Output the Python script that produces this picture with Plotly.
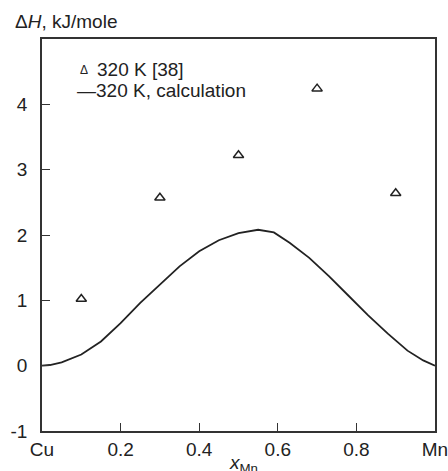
import plotly.graph_objects as go

# Experimental data, 320 K [38]
exp_x = [0.1, 0.3, 0.5, 0.7, 0.9]
exp_dh = [1.02, 2.57, 3.22, 4.24, 2.64]

# Calculated curve, 320 K
calc_x = [0, 0.02, 0.05, 0.1, 0.15, 0.2, 0.25, 0.3, 0.35, 0.4, 0.45, 0.5, 0.55,
          0.59, 0.63, 0.68, 0.73, 0.78, 0.83, 0.88, 0.93, 0.97, 1.0]
calc_dh = [0, 0.01, 0.05, 0.17, 0.37, 0.65, 0.96, 1.24, 1.52, 1.75, 1.92, 2.03, 2.08,
           2.04, 1.88, 1.65, 1.37, 1.07, 0.77, 0.49, 0.23, 0.08, 0.0]

x_tickvals = [0, 0.2, 0.4, 0.6, 0.8, 1.0]
x_ticktext = ["Cu", "0.2", "0.4", "0.6", "0.8", "Mn"]
y_tickvals = [-1, 0, 1, 2, 3, 4]
y_ticktext = ["-1", "0", "1", "2", "3", "4"]

legend_labels = ["320 K [38]", "320 K, calculation"]

FONT = "Arial, Liberation Sans, sans-serif"
INK = "#222222"
FS = 19

fig = go.Figure()
fig.add_trace(go.Scatter(
    x=exp_x, y=exp_dh, mode="markers", name=legend_labels[0],
    marker=dict(symbol="triangle-up-open", size=9, color=INK, line=dict(width=1.5, color=INK)),
))
fig.add_trace(go.Scatter(
    x=calc_x, y=calc_dh, mode="lines", name=legend_labels[1],
    line=dict(color=INK, width=1.8),
))

fig.update_layout(
    width=448, height=471,
    margin=dict(l=42, r=13, t=39, b=40, autoexpand=False),
    paper_bgcolor="white", plot_bgcolor="white",
    font=dict(family=FONT, size=FS, color=INK),
    showlegend=False,
    xaxis=dict(range=[0, 1], tickvals=x_tickvals, ticktext=x_ticktext,
               ticks="inside", ticklen=8, tickcolor="#333", tickwidth=1.2,
               showline=True, linecolor="#333", linewidth=1.5, mirror=True,
               showgrid=False, zeroline=False, tickfont=dict(size=FS),
               ticklabeloverflow="allow", automargin=False),
    yaxis=dict(range=[-1, 5], tickvals=y_tickvals, ticktext=y_ticktext,
               ticks="inside", ticklen=8, tickcolor="#333", tickwidth=1.2,
               showline=True, linecolor="#333", linewidth=1.5, mirror=True,
               showgrid=False, zeroline=False, tickfont=dict(size=FS),
               ticklabelstandoff=9, ticklabeloverflow="allow", automargin=False),
    annotations=[
        dict(text="Δ<i>H</i>, kJ/mole", xref="paper", yref="paper",
             x=-0.074, y=1.0, xanchor="left", yanchor="bottom", yshift=5,
             showarrow=False, font=dict(size=FS)),
        dict(text="<i>x</i><sub>Mn</sub>", xref="x", yref="paper",
             x=0.512, y=0, xanchor="center", yanchor="top", yshift=-19,
             showarrow=False, font=dict(size=FS)),
        # legend
        dict(text="Δ", xref="x", yref="y", x=0.107, y=4.53, xanchor="center",
             yanchor="middle", showarrow=False, font=dict(size=12)),
        dict(text=legend_labels[0], xref="x", yref="y", x=0.135, y=4.53,
             xanchor="left", yanchor="middle", showarrow=False, font=dict(size=FS)),
        dict(text="—" + legend_labels[1], xref="x", yref="y", x=0.084, y=4.21,
             xanchor="left", yanchor="middle", showarrow=False, font=dict(size=FS)),
    ],
)

fig.write_html("out.html", config={"displayModeBar": False},
               post_script="document.body.style.margin='0';")
